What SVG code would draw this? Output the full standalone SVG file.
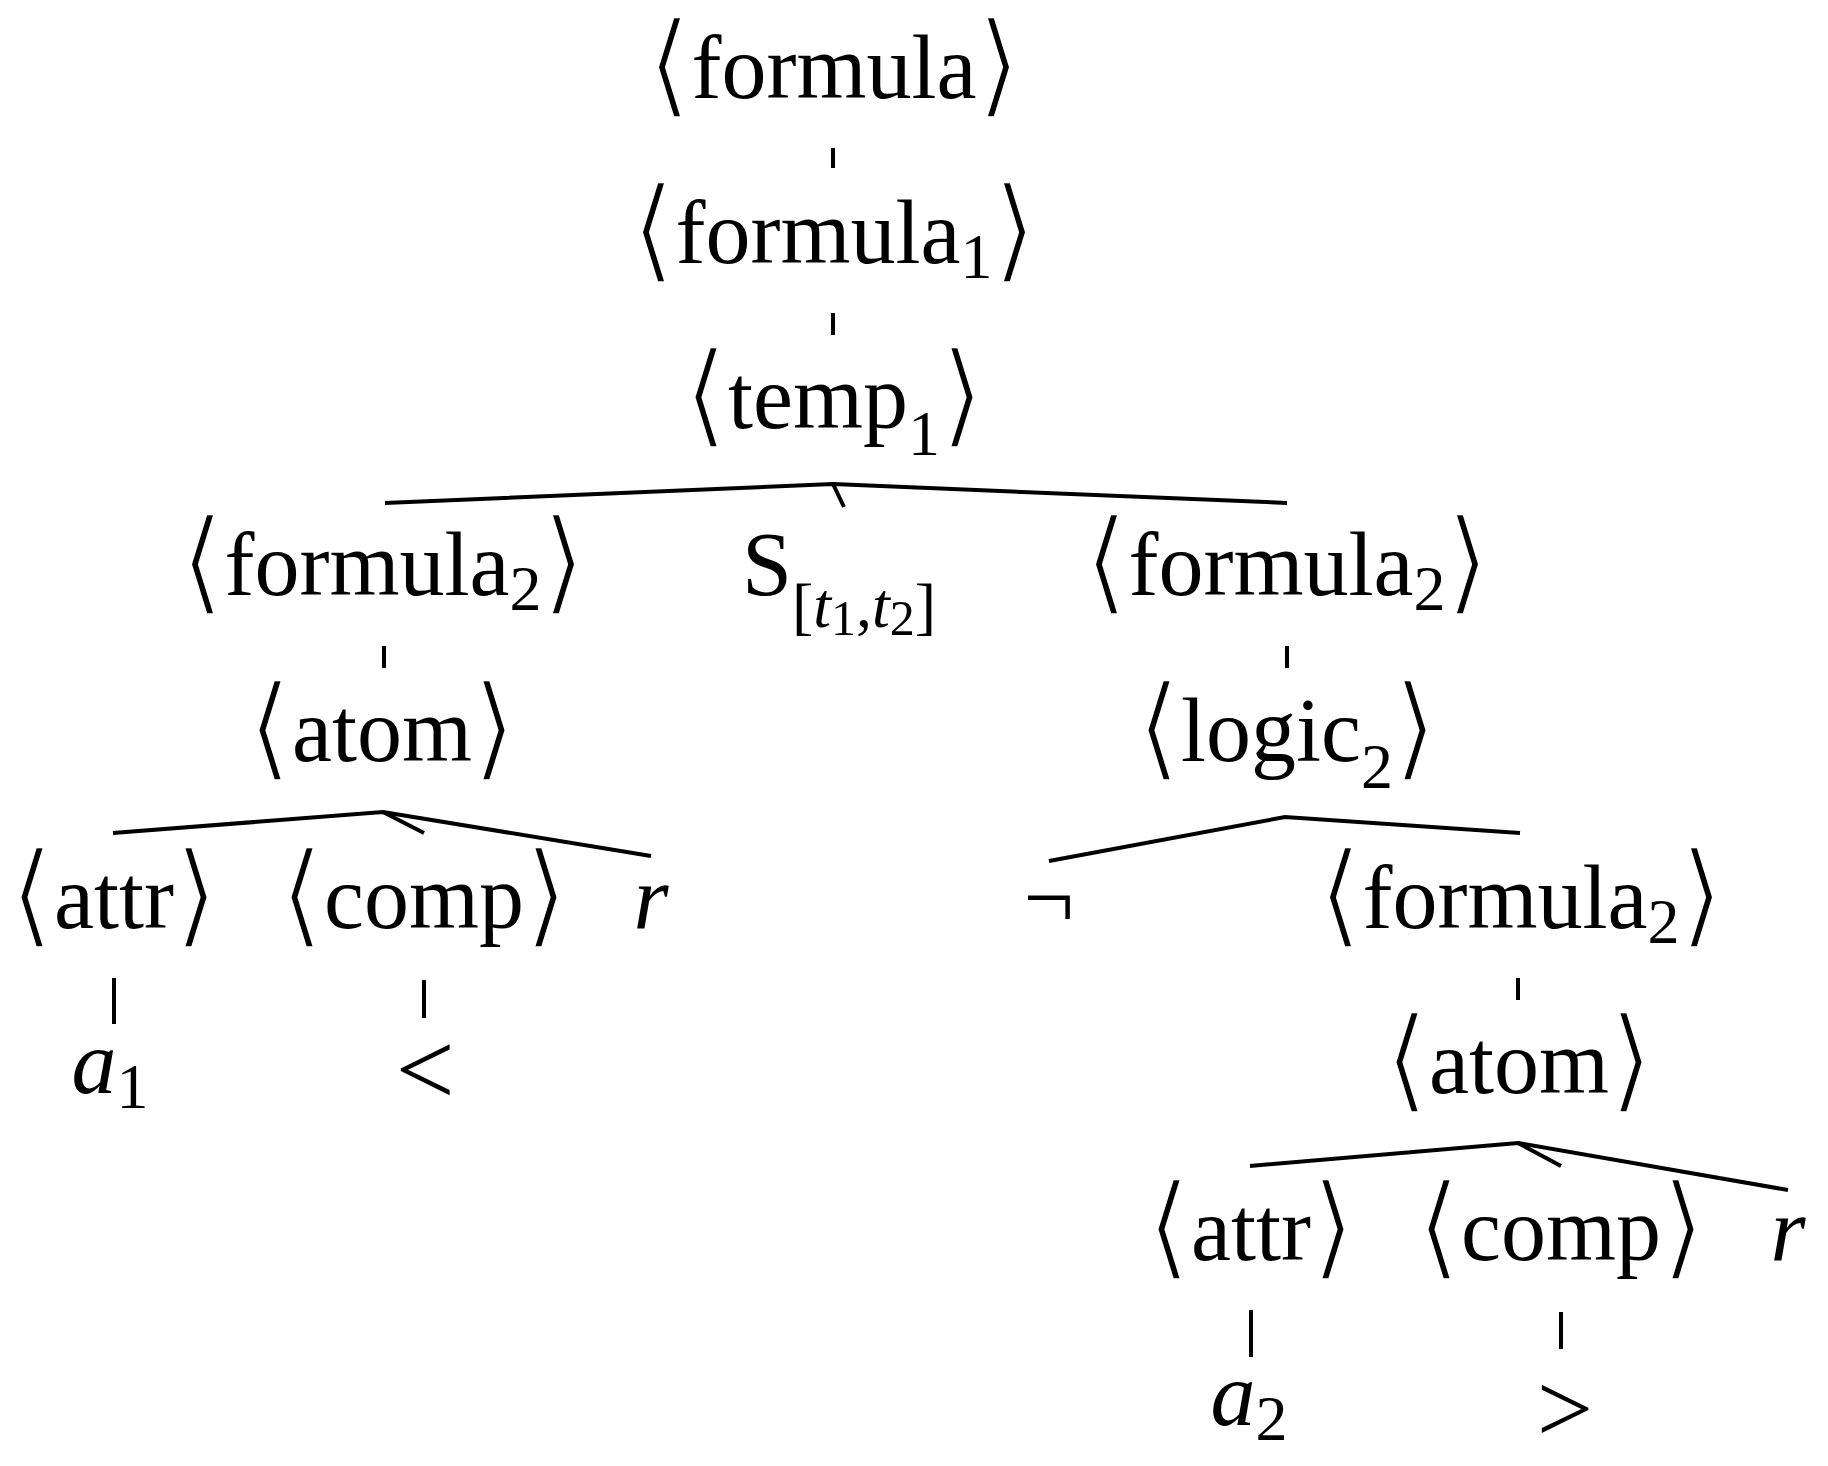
<svg xmlns="http://www.w3.org/2000/svg" width="1828" height="1466" viewBox="0 0 1828 1466">
<style>
  .lbl { font-family: "Liberation Serif", "Times New Roman", serif; font-size: 90px; fill: #000; text-anchor: middle; }
  .br { font-family: "DejaVu Sans", sans-serif; font-size: 114px; stroke: #fff; stroke-width: 3.4px; stroke-linejoin: round; }
  .sub { font-size: 64px; }
  .ss { font-size: 50px; }
  .it { font-style: italic; }
  .rel { font-size: 105px; }
  .rel2 { font-size: 100px; }
  .edge { stroke: #000; stroke-width: 4; fill: none; stroke-linecap: butt; }
</style>
<rect width="1828" height="1466" fill="#fff"/>
<g id="connectors">
  <line class="edge" x1="833" y1="148" x2="833" y2="168"/>
  <line class="edge" x1="833" y1="313" x2="833" y2="335"/>
  <polyline class="edge" points="385,503 833,484 1287,503"/>
  <line class="edge" x1="833" y1="484" x2="844" y2="507"/>
  <line class="edge" x1="384" y1="646" x2="384" y2="668"/>
  <line class="edge" x1="1287" y1="646" x2="1287" y2="668"/>
  <polyline class="edge" points="113,833 383,812 651,856"/>
  <line class="edge" x1="383" y1="812" x2="424" y2="833"/>
  <polyline class="edge" points="1049,861 1285,817 1520,833"/>
  <line class="edge" x1="114" y1="978" x2="114" y2="1024"/>
  <line class="edge" x1="424" y1="980" x2="424" y2="1018"/>
  <line class="edge" x1="1518" y1="978" x2="1518" y2="1000"/>
  <polyline class="edge" points="1250,1166 1518,1143 1788,1190"/>
  <line class="edge" x1="1518" y1="1143" x2="1561" y2="1166"/>
  <line class="edge" x1="1251" y1="1310" x2="1251" y2="1357"/>
  <line class="edge" x1="1561" y1="1312" x2="1561" y2="1349"/>
</g>
<g id="n-formula"><text class="lbl" x="834" y="98"><tspan class="br" dy="5">⟨</tspan><tspan dy="-5">formula</tspan><tspan class="br" dy="5">⟩</tspan></text></g>
<g id="n-formula1"><text class="lbl" x="834" y="263"><tspan class="br" dy="5">⟨</tspan><tspan dy="-5">formula</tspan><tspan class="sub" dy="15">1</tspan><tspan class="br" dy="-10">⟩</tspan></text></g>
<g id="n-temp1"><text class="lbl" x="834" y="428"><tspan class="br" dy="5">⟨</tspan><tspan dy="-5">temp</tspan><tspan class="sub" dy="27">1</tspan><tspan class="br" dy="-22">⟩</tspan></text></g>
<g id="n-formula2-a"><text class="lbl" x="383" y="595"><tspan class="br" dy="5">⟨</tspan><tspan dy="-5">formula</tspan><tspan class="sub" dy="15">2</tspan><tspan class="br" dy="-10">⟩</tspan></text></g>
<g id="n-since"><text class="lbl" x="839" y="595"><tspan>S</tspan><tspan class="sub" dy="32">[</tspan><tspan class="sub it">t</tspan><tspan class="ss" dy="8">1</tspan><tspan class="sub" dy="-8">,</tspan><tspan class="sub it">t</tspan><tspan class="ss" dy="8">2</tspan><tspan class="sub" dy="-8">]</tspan></text></g>
<g id="n-formula2-b"><text class="lbl" x="1287" y="595"><tspan class="br" dy="5">⟨</tspan><tspan dy="-5">formula</tspan><tspan class="sub" dy="15">2</tspan><tspan class="br" dy="-10">⟩</tspan></text></g>
<g id="n-atom-a"><text class="lbl" x="382" y="761"><tspan class="br" dy="5">⟨</tspan><tspan dy="-5">atom</tspan><tspan class="br" dy="5">⟩</tspan></text></g>
<g id="n-logic2"><text class="lbl" x="1287" y="761"><tspan class="br" dy="5">⟨</tspan><tspan dy="-5">logic</tspan><tspan class="sub" dy="27">2</tspan><tspan class="br" dy="-22">⟩</tspan></text></g>
<g id="n-attr-a"><text class="lbl" x="114" y="928"><tspan class="br" dy="5">⟨</tspan><tspan dy="-5">attr</tspan><tspan class="br" dy="5">⟩</tspan></text></g>
<g id="n-comp-a"><text class="lbl" x="424" y="928"><tspan class="br" dy="5">⟨</tspan><tspan dy="-5">comp</tspan><tspan class="br" dy="5">⟩</tspan></text></g>
<g id="n-r-a"><text class="lbl it" x="651" y="928">r</text></g>
<g id="n-not"><text class="lbl" x="1049" y="928">¬</text></g>
<g id="n-formula2-c"><text class="lbl" x="1521" y="928"><tspan class="br" dy="5">⟨</tspan><tspan dy="-5">formula</tspan><tspan class="sub" dy="15">2</tspan><tspan class="br" dy="-10">⟩</tspan></text></g>
<g id="n-a1"><text class="lbl" x="110" y="1093"><tspan class="it">a</tspan><tspan class="sub" dy="15">1</tspan></text></g>
<g id="n-lt"><text class="lbl rel" x="425" y="1105">&lt;</text></g>
<g id="n-atom-b"><text class="lbl" x="1519" y="1093"><tspan class="br" dy="5">⟨</tspan><tspan dy="-5">atom</tspan><tspan class="br" dy="5">⟩</tspan></text></g>
<g id="n-attr-b"><text class="lbl" x="1251" y="1260"><tspan class="br" dy="5">⟨</tspan><tspan dy="-5">attr</tspan><tspan class="br" dy="5">⟩</tspan></text></g>
<g id="n-comp-b"><text class="lbl" x="1561" y="1260"><tspan class="br" dy="5">⟨</tspan><tspan dy="-5">comp</tspan><tspan class="br" dy="5">⟩</tspan></text></g>
<g id="n-r-b"><text class="lbl it" x="1788" y="1260">r</text></g>
<g id="n-a2"><text class="lbl" x="1249" y="1425"><tspan class="it">a</tspan><tspan class="sub" dy="15">2</tspan></text></g>
<g id="n-gt"><text class="lbl rel2" x="1565" y="1442">&gt;</text></g>
</svg>
